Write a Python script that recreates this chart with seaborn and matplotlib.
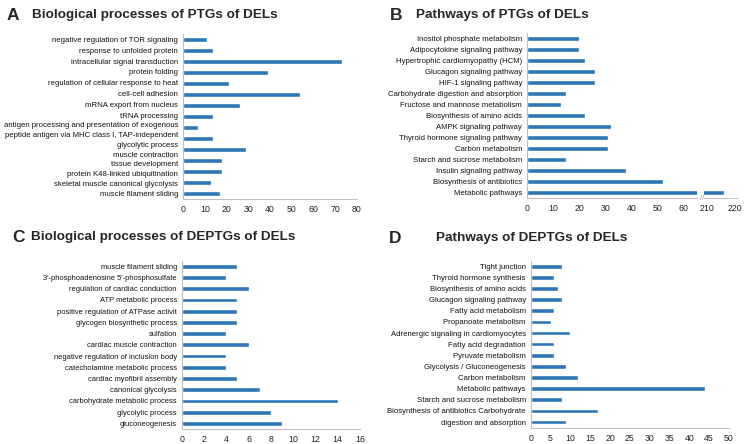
import numpy as np
import pandas as pd
import seaborn as sns
from matplotlib import pyplot as plt

# panel A: biological processes of PTGs
bp_ptg_terms = ["negative regulation of TOR signaling", "response to unfolded protein",
                "intracellular signal transduction", "protein folding",
                "regulation of cellular response to heat", "cell-cell adhesion",
                "mRNA export from nucleus", "tRNA processing",
                "antigen processing and presentation of exogenous peptide antigen",
                "glycolytic process", "muscle contraction", "tissue development",
                "protein K48-linked ubiquitination", "skeletal muscle canonical glycolysis",
                "muscle filament sliding"]
bp_ptg_counts = [11, 14, 73, 39, 21, 54, 26, 14, 7, 14, 29, 18, 18, 13, 17]
# the tick texts as they sit in the original figure (16 lines for 15 bars)
bp_ptg_ticklabels = ["negative regulation of TOR signaling", "response to unfolded protein",
                     "intracellular signal transduction", "protein folding",
                     "regulation of cellular response to heat", "cell-cell adhesion",
                     "mRNA export from nucleus", "tRNA processing",
                     "antigen processing and presentation of exogenous",
                     "peptide antigen via MHC class I, TAP-independent",
                     "glycolytic process", "muscle contraction", "tissue development",
                     "protein K48-linked ubiquitination",
                     "skeletal muscle canonical glycolysis", "muscle filament sliding"]

# panel B: pathways of PTGs (last bar is on a broken axis)
pw_ptg_terms = ["Inositol phosphate metabolism", "Adipocytokine signaling pathway",
                "Hypertrophic cardiomyopathy (HCM)", "Glucagon signaling pathway",
                "HIF-1 signaling pathway", "Carbohydrate digestion and absorption",
                "Fructose and mannose metabolism", "Biosynthesis of amino acids",
                "AMPK signaling pathway", "Thyroid hormone signaling pathway",
                "Carbon metabolism", "Starch and sucrose metabolism",
                "Insulin signaling pathway", "Biosynthesis of antibiotics", "Metabolic pathways"]
pw_ptg_counts = [20, 20, 22, 26, 26, 15, 13, 22, 32, 31, 31, 15, 38, 52, 216]

# panel C: biological processes of DEPTGs
bp_deptg_terms = ["muscle filament sliding", "3'-phosphoadenosine 5'-phosphosulfate",
                  "regulation of cardiac conduction", "ATP metabolic process",
                  "positive regulation of ATPase activit", "glycogen biosynthetic process",
                  "sulfation", "cardiac muscle contraction",
                  "negative regulation of inclusion body", "catecholamine metabolic process",
                  "cardiac myofibril assembly", "canonical glycolysis",
                  "carbohydrate metabolic process", "glycolytic process", "gluconeogenesis"]
bp_deptg_counts = [5, 4, 6, 5, 5, 5, 4, 6, 4, 4, 5, 7, 14, 8, 9]

# panel D: pathways of DEPTGs
pw_deptg_terms = ["Tight junction", "Thyroid hormone synthesis", "Biosynthesis of amino acids",
                  "Glucagon signaling pathway", "Fatty acid metabolism", "Propanoate metabolism",
                  "Adrenergic signaling in cardiomyocytes", "Fatty acid degradation",
                  "Pyruvate metabolism", "Glycolysis / Gluconeogenesis", "Carbon metabolism",
                  "Metabolic pathways", "Starch and sucrose metabolism",
                  "Biosynthesis of antibiotics Carbohydrate", "digestion and absorption"]
pw_deptg_counts = [8, 6, 7, 8, 6, 5, 10, 6, 6, 9, 12, 44, 8, 17, 9]

BAR = "#2E75B6"
AXIS = "#BFBFBF"
W, H = 746, 444

sns.set_style("white")
plt.rcParams["font.family"] = ["Liberation Sans", "DejaVu Sans"]


def px_rect(left, right, top, bottom):
    return [left / W, 1 - bottom / H, (right - left) / W, (bottom - top) / H]


def bar_panel(fig, rect, terms, counts, xticks, xlim, ylab=5.6):
    ax = fig.add_axes(rect)
    df = pd.DataFrame({"term": terms, "count": counts})
    sns.barplot(ax=ax, x="count", y="term", data=df, color=BAR, width=0.42,
                saturation=1, orient="h")
    ax.set_xlim(*xlim)
    ax.set_xticks(xticks)
    ax.set_xlabel("")
    ax.set_ylabel("")
    for s in ["top", "right"]:
        ax.spines[s].set_visible(False)
    for s in ["left", "bottom"]:
        ax.spines[s].set_color(AXIS)
        ax.spines[s].set_linewidth(0.8)
    ax.tick_params(axis="x", length=2.5, width=0.7, color=AXIS, labelsize=6.3, pad=2,
                   labelcolor="#222222")
    ax.tick_params(axis="y", length=0, labelsize=ylab, pad=3.5, labelcolor="#111111")
    return ax


fig = plt.figure(figsize=(W / 100, H / 100), dpi=100)

# A
axA = bar_panel(fig, px_rect(183, 357, 34.2, 198.8), bp_ptg_terms, bp_ptg_counts,
                np.arange(0, 81, 10), (0, 80))
tick_pos = np.concatenate([np.linspace(0, 6.87, 8), np.linspace(7.75, 14, 8)])
axA.set_yticks(tick_pos, bp_ptg_ticklabels)
axA.set_ylim(14.5, -0.5)

# B (broken axis)
axB = bar_panel(fig, px_rect(527, 697, 33.2, 198.2), pw_ptg_terms, pw_ptg_counts,
                np.arange(0, 61, 10), (0, 65))
axB2 = bar_panel(fig, px_rect(704, 737, 33.2, 198.2), pw_ptg_terms, pw_ptg_counts,
                 [210, 220], (209, 220.6))
axB2.spines["left"].set_visible(False)
axB2.set_yticks([])
axB.text(66.8, 14.5, "//", fontsize=5, color="#888888", ha="center", va="center",
         clip_on=False)

# C
bar_panel(fig, px_rect(181.7, 360, 260.7, 429), bp_deptg_terms, bp_deptg_counts,
          np.arange(0, 17, 2), (0, 16), ylab=5.4)

# D
bar_panel(fig, px_rect(530.7, 729, 260.7, 427.6), pw_deptg_terms, pw_deptg_counts,
          np.arange(0, 51, 5), (0, 50))

# panel letters and titles
heads = [("A", 7, 15, "Biological processes of PTGs of DELs", 32),
         ("B", 390, 15, "Pathways of PTGs of DELs", 416),
         ("C", 12, 237, "Biological processes of DEPTGs of DELs", 31),
         ("D", 389, 238, "Pathways of DEPTGs of DELs", 436)]
for letter, lx, ly, title, tx in heads:
    fig.text(lx / W, 1 - ly / H, letter, fontsize=12.5, fontweight="bold", va="center")
    fig.text(tx / W, 1 - ly / H, title, fontsize=9.7, fontweight="bold", va="center")

fig.savefig("out.png", dpi=100)
